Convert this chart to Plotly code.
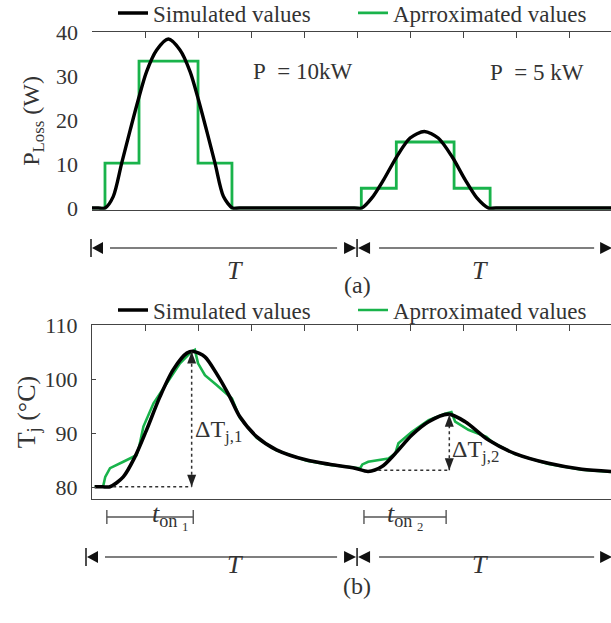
import plotly.graph_objects as go

FONT = "Liberation Serif, Times New Roman, serif"
TXT = "#333333"
AX = "#444444"
BLACK = "#000000"
GREEN = "#19b34b"

W, H = 611, 623
X_END = 9.79            # visible end of the time axis (periods of 5 units)
PERIOD_EDGES = [0, 5, 10]

# ---------- (a) power loss ----------
P_SIM_X = [0, 0.12, 0.245, 0.40, 0.56, 0.72, 0.87, 1.03, 1.22, 1.44, 1.66, 1.85, 2.01, 2.16,
           2.32, 2.48, 2.65, 2.78, 4.95, 5.09, 5.28, 5.50, 5.75, 6.00, 6.27, 6.53, 6.79, 7.04,
           7.26, 7.48, 7.62, 9.60, 9.79]
P_SIM_Y = [0, 0, 0, 2.6, 10.2, 17.7, 24.5, 31.0, 35.9, 38.4, 35.9, 31.0, 24.5, 17.7,
           10.2, 2.6, 0, 0, 0, 0, 2.3, 6.4, 11.7, 15.9, 17.4, 15.9, 11.7, 6.4,
           2.3, 0, 0, 0, 0]
P_APX_X = [0, 0.245, 0.887, 2.0, 2.64, 5.08, 5.74, 6.83, 7.51, 9.79]
P_APX_Y = [0, 10.2, 33.4, 10.2, 0, 4.5, 15.0, 4.5, 0, 0]

# ---------- (b) junction temperature ----------
T_SIM_X = [0.05, 0.20, 0.34, 0.59, 0.81, 1.03, 1.28, 1.53, 1.79, 1.92, 2.13, 2.35, 2.60, 2.79,
           3.11, 3.48, 4.05, 4.50, 4.96, 5.21, 5.47, 5.72, 6.03, 6.35, 6.72, 7.04, 7.48,
           7.98, 8.61, 9.24, 9.79]
T_SIM_Y = [80.06, 80.06, 80.06, 81.9, 85.6, 90.6, 96.7, 101.7, 104.8, 105.1, 104.1, 101.0, 96.7,
           93.0, 89.3, 86.9, 85.0, 84.2, 83.5, 82.9, 83.8, 86.2, 89.6, 92.1, 93.5, 92.1,
           88.7, 86.2, 84.4, 83.3, 82.9]
T_APX_X = [0.05, 0.21, 0.25, 0.34, 0.59, 0.84, 0.89, 0.97, 1.16, 1.41, 1.66, 1.85, 1.94,
           2.00, 2.13, 2.35, 2.54, 2.64, 2.79, 3.11, 3.48, 4.05, 4.50, 4.96, 5.06, 5.10,
           5.21, 5.59, 5.72, 5.78, 6.03, 6.35, 6.66, 6.78, 6.85, 7.10, 7.44, 7.55, 7.98,
           8.61, 9.24, 9.79]
T_APX_Y = [80.06, 80.1, 81.9, 83.5, 84.7, 85.9, 87.5, 91.2, 95.5, 99.2, 102.9, 104.8, 105.4,
           102.9, 100.7, 98.9, 97.3, 96.4, 92.8, 89.1, 86.8, 84.9, 84.1, 83.5, 83.5, 84.2,
           84.7, 85.3, 86.2, 88.1, 90.2, 92.4, 93.6, 93.9, 92.1, 90.6, 89.3, 88.3, 86.1,
           84.3, 83.2, 82.8]

P_TICKS = [0, 10, 20, 30, 40]
T_TICKS = [80, 90, 100, 110]

# delta-T markers: (x, T_low, T_high, x_start_of_dotted_baseline, label, label_T)
DELTA_T = [(1.88, 80.06, 105.1, 0.40, "ΔT<sub>j,1</sub>", 90.3),
           (6.74, 83.1, 93.4, 5.40, "ΔT<sub>j,2</sub>", 86.6)]
# on-time brackets (x start, x end, label)
T_ON = [(0.28, 1.91, "<i>t</i><sub>on <sub>1</sub></sub>"),
        (5.13, 6.68, "<i>t</i><sub>on <sub>2</sub></sub>")]
POWER_LABELS = [(3.98, 31.1, "P\u00a0\u00a0= 10kW"), (8.40, 30.7, "P\u00a0\u00a0= 5 kW")]

fig = go.Figure()
fig.add_trace(go.Scatter(x=P_APX_X, y=P_APX_Y, mode="lines", line=dict(color=GREEN, width=2.8, shape="hv"),
                         name="Aprroximated values", legend="legend", legendrank=2, xaxis="x", yaxis="y"))
fig.add_trace(go.Scatter(x=P_SIM_X, y=P_SIM_Y, mode="lines", line=dict(color=BLACK, width=3.4, shape="spline", smoothing=0.8),
                         name="Simulated values", legend="legend", legendrank=1, xaxis="x", yaxis="y"))
fig.add_trace(go.Scatter(x=T_APX_X, y=T_APX_Y, mode="lines", line=dict(color=GREEN, width=2.6),
                         name="Aprroximated values", legend="legend2", legendrank=2, xaxis="x2", yaxis="y2"))
fig.add_trace(go.Scatter(x=T_SIM_X, y=T_SIM_Y, mode="lines", line=dict(color=BLACK, width=3.6, shape="spline", smoothing=0.8),
                         name="Simulated values", legend="legend2", legendrank=1, xaxis="x2", yaxis="y2"))

def py(px):
    return 1 - px / H

tickfont = dict(family=FONT, size=22, color=TXT)
xcommon = dict(range=[0, X_END], side="top", ticks="inside", ticklen=6, tickwidth=1.2, tickcolor=AX,
               dtick=1, tick0=0, showticklabels=False, showline=True, linecolor=AX, linewidth=1.4,
               mirror=True, showgrid=False, zeroline=False, domain=[0, 1], automargin=False)

shapes = []
annotations = []

# dotted delta-T markers with arrow heads
for x, lo, hi, xs, lab, ly in DELTA_T:
    shapes.append(dict(type="line", xref="x2", yref="y2", x0=x, x1=x, y0=lo, y1=hi,
                       line=dict(color=TXT, width=1.5, dash="dot")))
    shapes.append(dict(type="line", xref="x2", yref="y2", x0=xs, x1=x, y0=lo, y1=lo,
                       line=dict(color=TXT, width=1.5, dash="dot")))
    shapes.append(dict(type="path", xref="x2", yref="y2", xsizemode="pixel", ysizemode="pixel",
                       xanchor=x, yanchor=hi, path="M0,0 L-4.5,-12 L4.5,-12 Z",
                       fillcolor="#222", line=dict(width=0)))
    shapes.append(dict(type="path", xref="x2", yref="y2", xsizemode="pixel", ysizemode="pixel",
                       xanchor=x, yanchor=lo, path="M0,0 L-4.5,12 L4.5,12 Z",
                       fillcolor="#222", line=dict(width=0)))
    annotations.append(dict(x=x, y=ly, xref="x2", yref="y2",
                            text=lab, showarrow=False, xanchor="left", xshift=1,
                            font=dict(family=FONT, size=24, color=TXT)))

for x, y, lab in POWER_LABELS:
    annotations.append(dict(x=x, y=y, xref="x", yref="y", text=lab, showarrow=False,
                            font=dict(family=FONT, size=23, color=TXT)))

PLOT_W = W - 92

# period arrows under each panel
def period_row(y_px, shift_px, label_y_px, tag, tag_y_px):
    yp = py(y_px)
    a, m, b = PERIOD_EDGES
    def xp(v):
        return v / X_END
    lcol = "#555555"
    shapes.append(dict(type="line", xref="paper", yref="paper", xsizemode="pixel", ysizemode="pixel",
                       xanchor=xp(a), yanchor=yp, x0=shift_px - 1, x1=shift_px - 1, y0=-9, y1=9,
                       line=dict(color="#222", width=1.6)))
    shapes.append(dict(type="path", xref="paper", yref="paper", xsizemode="pixel", ysizemode="pixel",
                       xanchor=xp(a), yanchor=yp, path=f"M{shift_px},0 L{shift_px+11},6 L{shift_px+11},-6 Z",
                       fillcolor="#111", line=dict(width=0)))
    shapes.append(dict(type="line", xref="paper", yref="paper", xsizemode="pixel", ysizemode="pixel",
                       xanchor=xp(m), yanchor=yp, x0=0, x1=0, y0=-9, y1=9,
                       line=dict(color="#222", width=1.6)))
    shapes.append(dict(type="path", xref="paper", yref="paper", xsizemode="pixel", ysizemode="pixel",
                       xanchor=xp(m), yanchor=yp, path="M-1,0 L-13,6 L-13,-6 Z",
                       fillcolor="#111", line=dict(width=0)))
    shapes.append(dict(type="path", xref="paper", yref="paper", xsizemode="pixel", ysizemode="pixel",
                       xanchor=xp(m), yanchor=yp, path="M1,0 L13,6 L13,-6 Z",
                       fillcolor="#111", line=dict(width=0)))
    shapes.append(dict(type="path", xref="paper", yref="paper", xsizemode="pixel", ysizemode="pixel",
                       xanchor=xp(b), yanchor=yp, path="M-10,0 L-22,6 L-22,-6 Z",
                       fillcolor="#111", line=dict(width=0)))
    shapes.append(dict(type="line", xref="paper", yref="paper", xsizemode="pixel", ysizemode="pixel",
                       xanchor=xp(a), yanchor=yp, x0=shift_px + 18, x1=(m - a) / X_END * PLOT_W - 20, y0=0, y1=0,
                       line=dict(color=lcol, width=1.4)))
    shapes.append(dict(type="line", xref="paper", yref="paper", xsizemode="pixel", ysizemode="pixel",
                       xanchor=xp(m), yanchor=yp, x0=22, x1=(b - m) / X_END * PLOT_W - 28, y0=0, y1=0,
                       line=dict(color=lcol, width=1.4)))
    for c in [(a + m) / 2, (m + b) / 2]:
        annotations.append(dict(x=c / X_END, y=py(label_y_px), xref="paper", yref="paper", text="<i>T</i>",
                                showarrow=False, font=dict(family=FONT, size=26, color=TXT)))
    annotations.append(dict(x=m / X_END, y=py(tag_y_px), xref="paper", yref="paper", text=tag,
                            showarrow=False, font=dict(family=FONT, size=24, color=TXT)))

period_row(248, 0, 270, "(a)", 285)
period_row(557, -5, 581, "(b)", 601)

# on-time brackets
for x0, x1, lab in T_ON:
    yb = py(517)
    shapes.append(dict(type="line", xref="paper", yref="paper", x0=x0 / X_END, x1=x1 / X_END, y0=yb, y1=yb,
                       line=dict(color="#555", width=1.4)))
    for xe in (x0, x1):
        shapes.append(dict(type="line", xref="paper", yref="paper", xsizemode="pixel", ysizemode="pixel",
                           xanchor=xe / X_END, yanchor=yb, x0=0, x1=0, y0=-7, y1=7,
                           line=dict(color="#555", width=1.4)))
    annotations.append(dict(x=(x0 + x1) / 2 / X_END, y=py(536), xref="paper", yref="paper", text=lab,
                            showarrow=False, font=dict(family=FONT, size=26, color=TXT)))

legend_common = dict(orientation="h", xref="container", yref="container", x=113 / W,
                     xanchor="left", yanchor="middle", entrywidth=195, entrywidthmode="pixels",
                     bgcolor="rgba(0,0,0,0)", font=dict(family=FONT, size=23, color=TXT))

fig.update_layout(
    width=W, height=H,
    margin=dict(l=92, r=0, t=0, b=0, autoexpand=False),
    paper_bgcolor="white", plot_bgcolor="white",
    font=dict(family=FONT, color=TXT),
    xaxis=dict(anchor="y", **xcommon),
    yaxis=dict(anchor="x", domain=[py(209.8), py(32)], range=[-0.4, 40], tickvals=P_TICKS, ticks="",
               showline=False, showgrid=False, zeroline=False, tickfont=tickfont, automargin=False,
               ticklabelstandoff=13,
               title=dict(text="P<sub>Loss</sub> (W)", font=dict(family=FONT, size=24, color=TXT), standoff=9)),
    yaxis3=dict(overlaying="y", anchor="x", side="right", range=[-0.4, 40], tickvals=[10, 20, 30],
                ticks="inside", ticklen=5, tickcolor=AX, showticklabels=False, showline=False,
                showgrid=False, zeroline=False, automargin=False),
    xaxis2=dict(anchor="y2", **xcommon),
    yaxis2=dict(anchor="x2", domain=[py(499), py(325)], range=[77.8, 110], tickvals=T_TICKS,
                ticks="inside", ticklen=4, tickcolor=AX, showline=True, linecolor=AX, linewidth=1.4,
                showgrid=False, zeroline=False, tickfont=tickfont, automargin=False, ticklabelstandoff=9,
                title=dict(text="T<sub>j</sub> (°C)", font=dict(family=FONT, size=26, color=TXT), standoff=0)),
    legend=dict(y=1 - 13 / H, **legend_common),
    legend2=dict(y=1 - 310 / H, **legend_common),
    shapes=shapes, annotations=annotations,
)

fig.write_html("out.html")
